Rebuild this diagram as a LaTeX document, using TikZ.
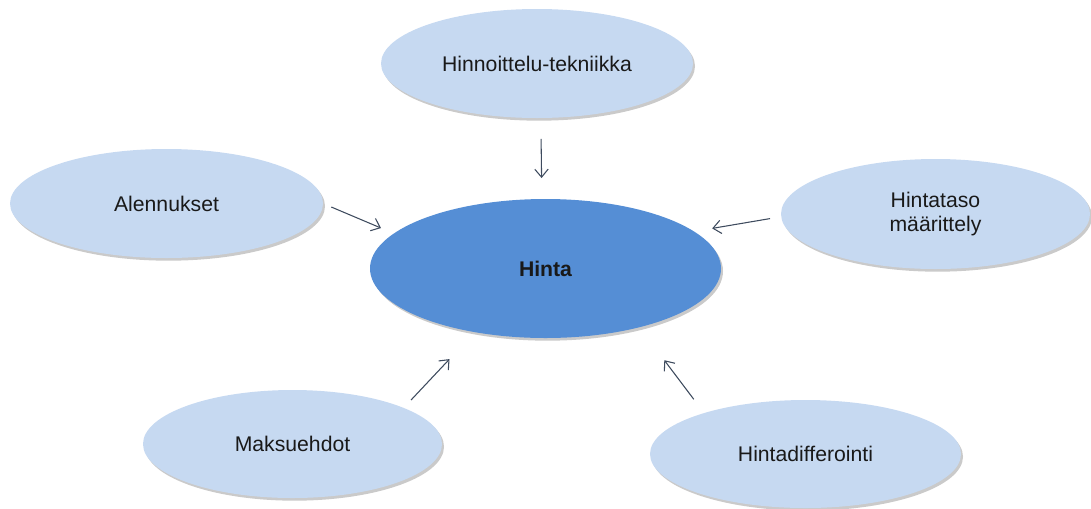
\documentclass[tikz,border=0pt]{standalone}
\usepackage{fontspec}
\setmainfont{Liberation Sans}
\usetikzlibrary{shapes,shadows,arrows.meta}
\definecolor{osablue}{HTML}{C6D9F1}
\definecolor{hintablue}{HTML}{558ED5}
\definecolor{nuoligray}{HTML}{3E4B5E}

\begin{document}
\begin{tikzpicture}[x=0.75pt,y=-0.75pt,
    osa/.style={ellipse, fill=osablue, inner sep=0pt, outer sep=0pt, align=center,
        text=black!90, font=\fontsize{15.9}{18.5}\selectfont,
        drop shadow={shadow xshift=1.5pt, shadow yshift=-2pt, fill=black!60, opacity=0.35}},
    nuoli/.style={draw=nuoligray, line width=0.8pt, -{Straight Barb[length=6pt,width=10pt]}}]
        \useasboundingbox (0,0) rectangle (1091,508);

        \node[osa, fill=hintablue, minimum width=263.25pt, minimum height=104.25pt, font=\fontsize{15.9}{18.5}\selectfont\bfseries] (hinta) at (545.5,268.5) {Hinta};

        \node[osa, minimum width=234pt, minimum height=81.75pt] (hinnoittelu) at (537,63.5) {Hinnoittelu-tekniikka};
        \node[osa, minimum width=234.75pt, minimum height=81.75pt] (alennukset) at (166.5,203.5) {Alennukset};
        \node[osa, minimum width=231.75pt, minimum height=82.5pt] (hintataso) at (935.5,214) {Hintataso\\määrittely};
        \node[osa, minimum width=224.25pt, minimum height=81pt] (maksuehdot) at (292.5,444) {Maksuehdot};
        \node[osa, minimum width=233.25pt, minimum height=81pt] (differointi) at (805.5,454) {Hintadifferointi};

        \draw[nuoli, shorten <=15.75pt, shorten >=15.75pt] (hinnoittelu.-86.1) -- (hinta.93.95);
        \draw[nuoli, shorten <=6.75pt, shorten >=10.5pt] (alennukset.-0.8) -- (hinta.167.4);
        \draw[nuoli, shorten <=8.5pt, shorten >=13.8pt] (hintataso.181.6) -- (hinta.14.4);
        \draw[nuoli, shorten <=8.1pt, shorten >=27.75pt] (maksuehdot.18.05) -- (hinta.222.2);
        \draw[nuoli, shorten <=12.9pt, shorten >=31pt] (differointi.158.9) -- (hinta.-32.9);

    \end{tikzpicture}
\end{document}
